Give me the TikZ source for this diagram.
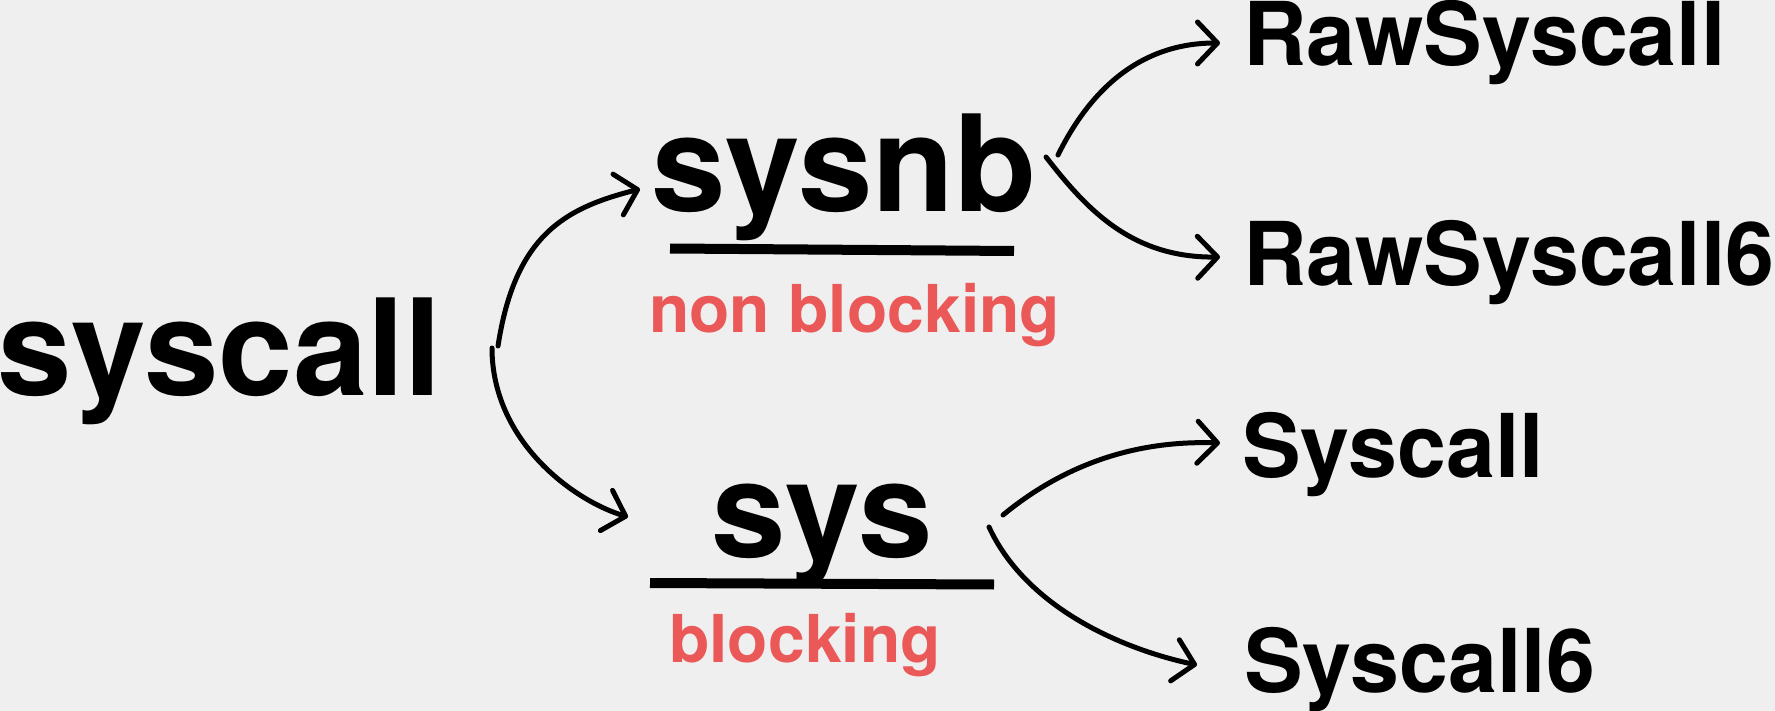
\documentclass[tikz,border=0pt]{standalone}
\usepackage{fontspec}
\setmainfont{TeX Gyre Heros}
\usetikzlibrary{arrows.meta}
\definecolor{bg}{RGB}{239,239,239}
\definecolor{redtxt}{RGB}{234,88,88}
\begin{document}
\begin{tikzpicture}[x=1pt,y=-1pt,
  big/.style={inner sep=0pt, anchor=base west, font=\fontsize{134}{134}\selectfont\bfseries},
  med/.style={inner sep=0pt, anchor=base west, font=\fontsize{88}{88}\selectfont\bfseries},
  lbl/.style={inner sep=0pt, anchor=base west, text=redtxt, font=\fontsize{66}{66}\selectfont\bfseries},
  conn/.style={line width=5pt, line cap=round, -{Straight Barb[length=20pt,width=42pt,round]}},
  bar/.style={line width=10pt}]
\fill[bg] (0,0) rectangle (1775,711);
\useasboundingbox (0,0) rectangle (1775,711);
% nodes
\node[big] (syscall) at (-3,395) {syscall};
\node[big] (sysnb) at (651,212) {sysnb};
\node[big] (sys) at (711,557) {sys};
\node[lbl] (nb) at (649,332) {non blocking};
\node[lbl] (bl) at (669,662) {blocking};
\node[med] (raw) at (1243,66) {RawSyscall};
\node[med] (raw6) at (1243,286) {RawSyscall6};
\node[med] (sc) at (1242,477) {Syscall};
\node[med] (sc6) at (1244,692) {Syscall6};
% underlines
\draw[bar] (670,248.5) -- (1014,251);
\draw[bar] (650,583) -- (994,584.5);
% connector end points
\coordinate (o1) at (498,346);
\coordinate (o2) at (492,348);
\coordinate (t1) at (640,189);
\coordinate (t2) at (628,517);
\coordinate (o3) at (1058,155);
\coordinate (o4) at (1046,157);
\coordinate (t3) at (1220,43);
\coordinate (t4) at (1220,257);
\coordinate (o5) at (1003,515);
\coordinate (o6) at (989,527);
\coordinate (t5) at (1220,443);
\coordinate (t6) at (1197,665);
% connectors
\draw[conn] (o1) .. controls (515,235) and (565,208) .. (t1);
\draw[conn] (o2) .. controls (492,440) and (572,500) .. (t2);
\draw[conn] (o3) .. controls (1090,90) and (1140,43) .. (t3);
\draw[conn] (o4) .. controls (1085,207) and (1130,258) .. (t4);
\draw[conn] (o5) .. controls (1060,468) and (1130,440) .. (t5);
\draw[conn] (o6) .. controls (1025,605) and (1117,648) .. (t6);
\end{tikzpicture}
\end{document}
